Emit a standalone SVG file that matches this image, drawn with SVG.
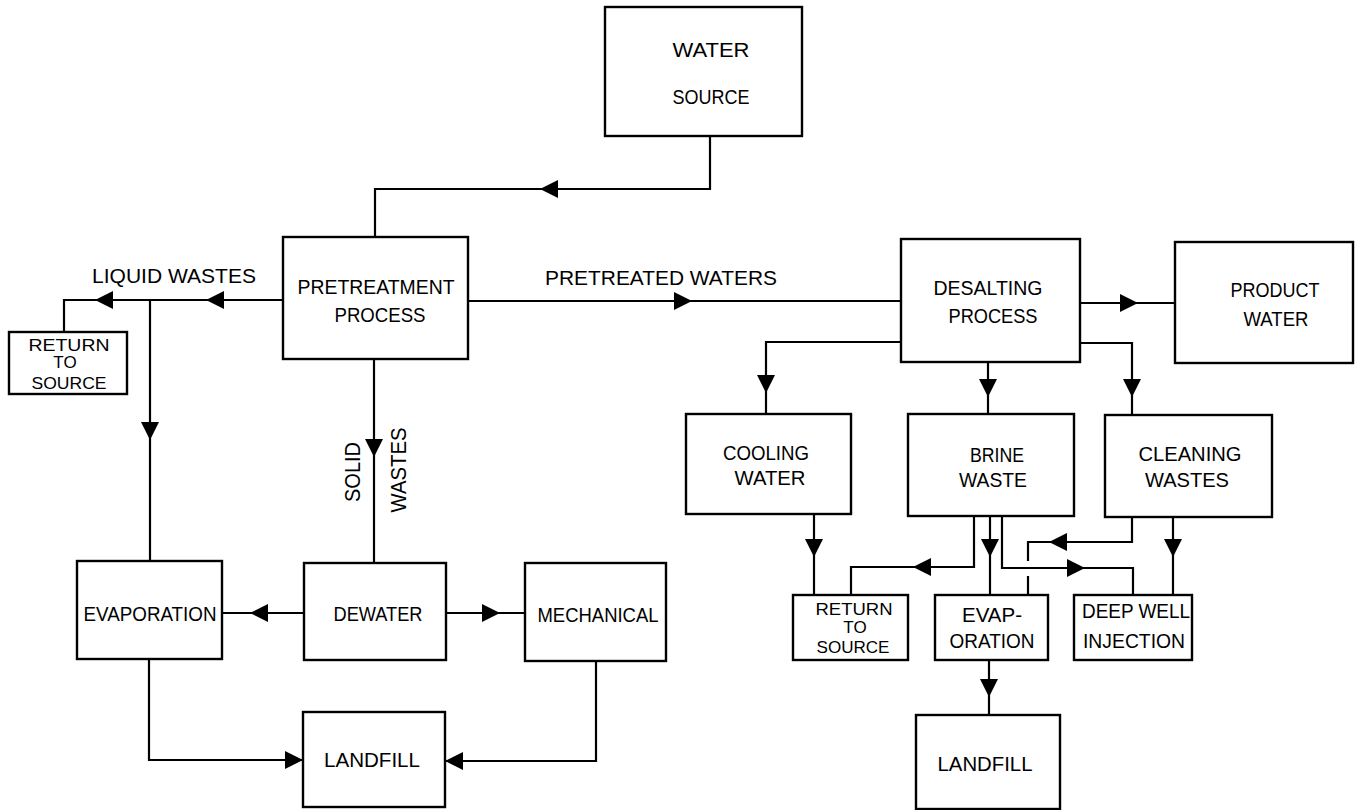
<svg xmlns="http://www.w3.org/2000/svg" xmlns:xlink="http://www.w3.org/1999/xlink" width="1358" height="810" viewBox="0 0 1358 810">
<style>
.box{fill:#fff;stroke:#000;stroke-width:2.4}
.ln{fill:none;stroke:#000;stroke-width:2.2;stroke-linejoin:miter}
text{font-family:"Liberation Sans",Arial,sans-serif;font-size:19.5px;fill:#000;text-anchor:middle}
.sm{font-size:17px}
.vt{font-size:22px}
</style>
<defs>
<path id="ah" d="M0,0 L-18,-9 L-18,9 Z" fill="#000"/>
</defs>
<rect width="1358" height="810" fill="#fff"/>
<g id="connectors">
<path class="ln" d="M710,136 V189 H375 V237"/>
<path class="ln" d="M283,300 H64 V332"/>
<path class="ln" d="M150,300 V561"/>
<path class="ln" d="M374,359 V563"/>
<path class="ln" d="M304,613 H222"/>
<path class="ln" d="M446,613 H525"/>
<path class="ln" d="M149,659 V760 H303"/>
<path class="ln" d="M596,661 V761 H445"/>
<path class="ln" d="M468,301 H901"/>
<path class="ln" d="M901,342 H766 V414"/>
<path class="ln" d="M1080,303 H1175"/>
<path class="ln" d="M988,362 V414"/>
<path class="ln" d="M1080,343 H1132 V415"/>
<path class="ln" d="M814,514 V595"/>
<path class="ln" d="M974,516 V567 H851 V595"/>
<path class="ln" d="M990,516 V595"/>
<path class="ln" d="M1002,516 V568 H1133 V595"/>
<path class="ln" d="M1132,517 V542 H1028 V561 M1028,576 V595"/>
<path class="ln" d="M1173,517 V595"/>
<path class="ln" d="M989,660 V715"/>
<use xlink:href="#ah" transform="translate(540,189) rotate(180)"/>
<use xlink:href="#ah" transform="translate(206,300) rotate(180)"/>
<use xlink:href="#ah" transform="translate(95,300) rotate(180)"/>
<use xlink:href="#ah" transform="translate(150,440) rotate(90)"/>
<use xlink:href="#ah" transform="translate(374,457) rotate(90)"/>
<use xlink:href="#ah" transform="translate(250,613) rotate(180)"/>
<use xlink:href="#ah" transform="translate(500,613)"/>
<use xlink:href="#ah" transform="translate(303,760)"/>
<use xlink:href="#ah" transform="translate(445,761) rotate(180)"/>
<use xlink:href="#ah" transform="translate(692,301)"/>
<use xlink:href="#ah" transform="translate(1138,303)"/>
<use xlink:href="#ah" transform="translate(766,393) rotate(90)"/>
<use xlink:href="#ah" transform="translate(988,397) rotate(90)"/>
<use xlink:href="#ah" transform="translate(1132,397) rotate(90)"/>
<use xlink:href="#ah" transform="translate(814,557) rotate(90)"/>
<use xlink:href="#ah" transform="translate(913,567) rotate(180)"/>
<use xlink:href="#ah" transform="translate(990,557) rotate(90)"/>
<use xlink:href="#ah" transform="translate(1085,568)"/>
<use xlink:href="#ah" transform="translate(1049,542) rotate(180)"/>
<use xlink:href="#ah" transform="translate(1173,557) rotate(90)"/>
<use xlink:href="#ah" transform="translate(989,697) rotate(90)"/>
<text x="174" y="283" textLength="164" lengthAdjust="spacingAndGlyphs">LIQUID  WASTES</text>
<text x="661" y="285" textLength="232" lengthAdjust="spacingAndGlyphs">PRETREATED  WATERS</text>
<text class="vt" transform="translate(360,472) rotate(-90)" textLength="60" lengthAdjust="spacingAndGlyphs">SOLID</text>
<text class="vt" transform="translate(406,470) rotate(-90)" textLength="85" lengthAdjust="spacingAndGlyphs">WASTES</text>
</g>
<g id="water-source"><rect class="box" x="605" y="7" width="197" height="129"/><text x="711" y="57" textLength="77" lengthAdjust="spacingAndGlyphs">WATER</text><text x="711" y="104" textLength="77" lengthAdjust="spacingAndGlyphs">SOURCE</text></g>
<g id="pretreatment"><rect class="box" x="283" y="237" width="185" height="122"/><text x="376" y="294" textLength="157" lengthAdjust="spacingAndGlyphs">PRETREATMENT</text><text x="380" y="322" textLength="91" lengthAdjust="spacingAndGlyphs">PROCESS</text></g>
<g id="return-left"><rect class="box" x="9" y="332" width="118" height="62"/><text class="sm" x="69" y="351" textLength="81" lengthAdjust="spacingAndGlyphs">RETURN</text><text class="sm" x="65" y="368">TO</text><text class="sm" x="69" y="389" textLength="75" lengthAdjust="spacingAndGlyphs">SOURCE</text></g>
<g id="evaporation-left"><rect class="box" x="77" y="561" width="145" height="98"/><text x="150" y="621" textLength="133" lengthAdjust="spacingAndGlyphs">EVAPORATION</text></g>
<g id="dewater"><rect class="box" x="304" y="563" width="142" height="97"/><text x="378" y="621" textLength="89" lengthAdjust="spacingAndGlyphs">DEWATER</text></g>
<g id="mechanical"><rect class="box" x="525" y="563" width="141" height="98"/><text x="598" y="622" textLength="121" lengthAdjust="spacingAndGlyphs">MECHANICAL</text></g>
<g id="landfill-left"><rect class="box" x="303" y="712" width="142" height="95"/><text x="372" y="767" textLength="96" lengthAdjust="spacingAndGlyphs">LANDFILL</text></g>
<g id="desalting"><rect class="box" x="901" y="239" width="179" height="123"/><text x="988" y="295" textLength="109" lengthAdjust="spacingAndGlyphs">DESALTING</text><text x="993" y="323" textLength="89" lengthAdjust="spacingAndGlyphs">PROCESS</text></g>
<g id="product-water"><rect class="box" x="1175" y="242" width="178" height="121"/><text x="1275" y="297" textLength="89" lengthAdjust="spacingAndGlyphs">PRODUCT</text><text x="1276" y="326" textLength="65" lengthAdjust="spacingAndGlyphs">WATER</text></g>
<g id="cooling-water"><rect class="box" x="686" y="414" width="165" height="100"/><text x="766" y="460" textLength="86" lengthAdjust="spacingAndGlyphs">COOLING</text><text x="770" y="485" textLength="71" lengthAdjust="spacingAndGlyphs">WATER</text></g>
<g id="brine-waste"><rect class="box" x="908" y="414" width="166" height="102"/><text x="997" y="462" textLength="54" lengthAdjust="spacingAndGlyphs">BRINE</text><text x="993" y="487" textLength="68" lengthAdjust="spacingAndGlyphs">WASTE</text></g>
<g id="cleaning-wastes"><rect class="box" x="1105" y="415" width="167" height="102"/><text x="1190" y="461" textLength="103" lengthAdjust="spacingAndGlyphs">CLEANING</text><text x="1187" y="487" textLength="84" lengthAdjust="spacingAndGlyphs">WASTES</text></g>
<g id="return-right"><rect class="box" x="793" y="595" width="115" height="65"/><text class="sm" x="854" y="615" textLength="77" lengthAdjust="spacingAndGlyphs">RETURN</text><text class="sm" x="855" y="633">TO</text><text class="sm" x="853" y="653" textLength="73" lengthAdjust="spacingAndGlyphs">SOURCE</text></g>
<g id="evaporation-right"><rect class="box" x="935" y="595" width="113" height="65"/><text x="992" y="622" textLength="60" lengthAdjust="spacingAndGlyphs">EVAP-</text><text x="992" y="648" textLength="85" lengthAdjust="spacingAndGlyphs">ORATION</text></g>
<g id="deep-well"><rect class="box" x="1074" y="595" width="118" height="65"/><text x="1136" y="618" textLength="108" lengthAdjust="spacingAndGlyphs">DEEP WELL</text><text x="1134" y="648" textLength="102" lengthAdjust="spacingAndGlyphs">INJECTION</text></g>
<g id="landfill-right"><rect class="box" x="916" y="715" width="144" height="94"/><text x="985" y="771" textLength="95" lengthAdjust="spacingAndGlyphs">LANDFILL</text></g>
</svg>
